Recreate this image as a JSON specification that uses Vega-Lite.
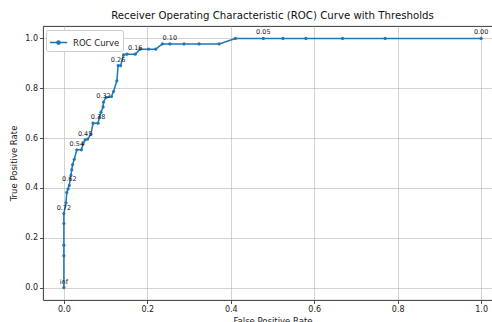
{
  "$schema": "https://vega.github.io/schema/vega-lite/v6.json",
  "width": 459,
  "height": 274,
  "autosize": {"type": "none"},
  "padding": {"left": 43, "top": 26, "right": 0, "bottom": 22},
  "background": "white",
  "config": {
    "font": "DejaVu Sans",
    "view": {"stroke": "#222", "strokeWidth": 0.9},
    "axis": {
      "grid": true, "gridColor": "#b0b0b0", "gridWidth": 0.8, "gridOpacity": 0.7,
      "domain": false, "tickColor": "#222", "tickSize": 3.5, "tickWidth": 0.8,
      "labelFontSize": 8, "labelColor": "#222", "labelPadding": 2,
      "titleFontSize": 8.5, "titleFontWeight": "normal", "titleColor": "#222"
    }
  },
  "title": {"text": "Receiver Operating Characteristic (ROC) Curve with Thresholds", "fontSize": 10.2, "fontWeight": "normal", "color": "#111", "offset": 5},
  "data": {"values": [
    {"i": 0, "fpr": 0, "tpr": 0, "label": "inf"},
    {"i": 1, "fpr": 0, "tpr": 0.128},
    {"i": 2, "fpr": 0, "tpr": 0.17},
    {"i": 3, "fpr": 0, "tpr": 0.257},
    {"i": 4, "fpr": 0, "tpr": 0.297, "label": "0.72"},
    {"i": 5, "fpr": 0.005, "tpr": 0.34},
    {"i": 6, "fpr": 0.007, "tpr": 0.382},
    {"i": 7, "fpr": 0.010, "tpr": 0.396},
    {"i": 8, "fpr": 0.013, "tpr": 0.41, "label": "0.62"},
    {"i": 9, "fpr": 0.017, "tpr": 0.452},
    {"i": 10, "fpr": 0.019, "tpr": 0.473},
    {"i": 11, "fpr": 0.021, "tpr": 0.494},
    {"i": 12, "fpr": 0.025, "tpr": 0.515},
    {"i": 13, "fpr": 0.031, "tpr": 0.553, "label": "0.54"},
    {"i": 14, "fpr": 0.042, "tpr": 0.553},
    {"i": 15, "fpr": 0.046, "tpr": 0.576},
    {"i": 16, "fpr": 0.051, "tpr": 0.593, "label": "0.45"},
    {"i": 17, "fpr": 0.057, "tpr": 0.596},
    {"i": 18, "fpr": 0.065, "tpr": 0.616},
    {"i": 19, "fpr": 0.070, "tpr": 0.66},
    {"i": 20, "fpr": 0.082, "tpr": 0.66, "label": "0.38"},
    {"i": 21, "fpr": 0.085, "tpr": 0.683},
    {"i": 22, "fpr": 0.089, "tpr": 0.704},
    {"i": 23, "fpr": 0.094, "tpr": 0.725},
    {"i": 24, "fpr": 0.095, "tpr": 0.745, "label": "0.32"},
    {"i": 25, "fpr": 0.101, "tpr": 0.763},
    {"i": 26, "fpr": 0.114, "tpr": 0.767},
    {"i": 27, "fpr": 0.119, "tpr": 0.787},
    {"i": 28, "fpr": 0.127, "tpr": 0.83},
    {"i": 29, "fpr": 0.130, "tpr": 0.891, "label": "0.26"},
    {"i": 30, "fpr": 0.136, "tpr": 0.891},
    {"i": 31, "fpr": 0.143, "tpr": 0.934},
    {"i": 32, "fpr": 0.151, "tpr": 0.937},
    {"i": 33, "fpr": 0.171, "tpr": 0.937, "label": "0.16"},
    {"i": 34, "fpr": 0.183, "tpr": 0.957},
    {"i": 35, "fpr": 0.203, "tpr": 0.957},
    {"i": 36, "fpr": 0.220, "tpr": 0.957},
    {"i": 37, "fpr": 0.236, "tpr": 0.978},
    {"i": 38, "fpr": 0.254, "tpr": 0.978, "label": "0.10"},
    {"i": 39, "fpr": 0.288, "tpr": 0.978},
    {"i": 40, "fpr": 0.324, "tpr": 0.978},
    {"i": 41, "fpr": 0.372, "tpr": 0.978},
    {"i": 42, "fpr": 0.411, "tpr": 1.0},
    {"i": 43, "fpr": 0.478, "tpr": 1.0, "label": "0.05"},
    {"i": 44, "fpr": 0.525, "tpr": 1.0},
    {"i": 45, "fpr": 0.58, "tpr": 1.0},
    {"i": 46, "fpr": 0.668, "tpr": 1.0},
    {"i": 47, "fpr": 0.77, "tpr": 1.0},
    {"i": 48, "fpr": 1.0, "tpr": 1.0, "label": "0.00"}
  ]},
  "encoding": {
    "x": {"field": "fpr", "type": "quantitative", "scale": {"domain": [-0.05, 1.05], "nice": false, "zero": false},
          "axis": {"title": "False Positive Rate", "values": [0, 0.2, 0.4, 0.6, 0.8, 1.0], "format": ".1f", "titlePadding": 3}},
    "y": {"field": "tpr", "type": "quantitative", "scale": {"domain": [-0.05, 1.05], "nice": false, "zero": false},
          "axis": {"title": "True Positive Rate", "values": [0, 0.2, 0.4, 0.6, 0.8, 1.0], "format": ".1f", "titlePadding": 6}}
  },
  "layer": [
    {
      "mark": {"type": "line", "strokeWidth": 1.5},
      "encoding": {
        "order": {"field": "i"},
        "color": {"datum": "ROC Curve", "type": "nominal", "scale": {"range": ["#1f77b4"]},
          "legend": {"title": null, "orient": "none", "legendX": 3, "legendY": 4,
            "symbolType": "M-1,0H1M-0.18,0a0.18,0.18 0 1,0 0.36,0a0.18,0.18 0 1,0 -0.36,0",
            "symbolSize": 300, "symbolStrokeWidth": 1.5, "symbolFillColor": "#1f77b4", "symbolStrokeColor": "#1f77b4",
            "labelFontSize": 8.5, "labelColor": "#222", "fillColor": "white", "strokeColor": "#cccccc",
            "cornerRadius": 2, "padding": 3, "labelOffset": 5}}
      }
    },
    {
      "mark": {"type": "point", "filled": true, "size": 10, "color": "#1f77b4", "opacity": 1}
    },
    {
      "transform": [{"filter": "datum.label != null"}],
      "mark": {"type": "text", "fontSize": 6.5, "color": "#222", "baseline": "bottom", "dy": -3},
      "encoding": {"text": {"field": "label"}}
    }
  ]
}
